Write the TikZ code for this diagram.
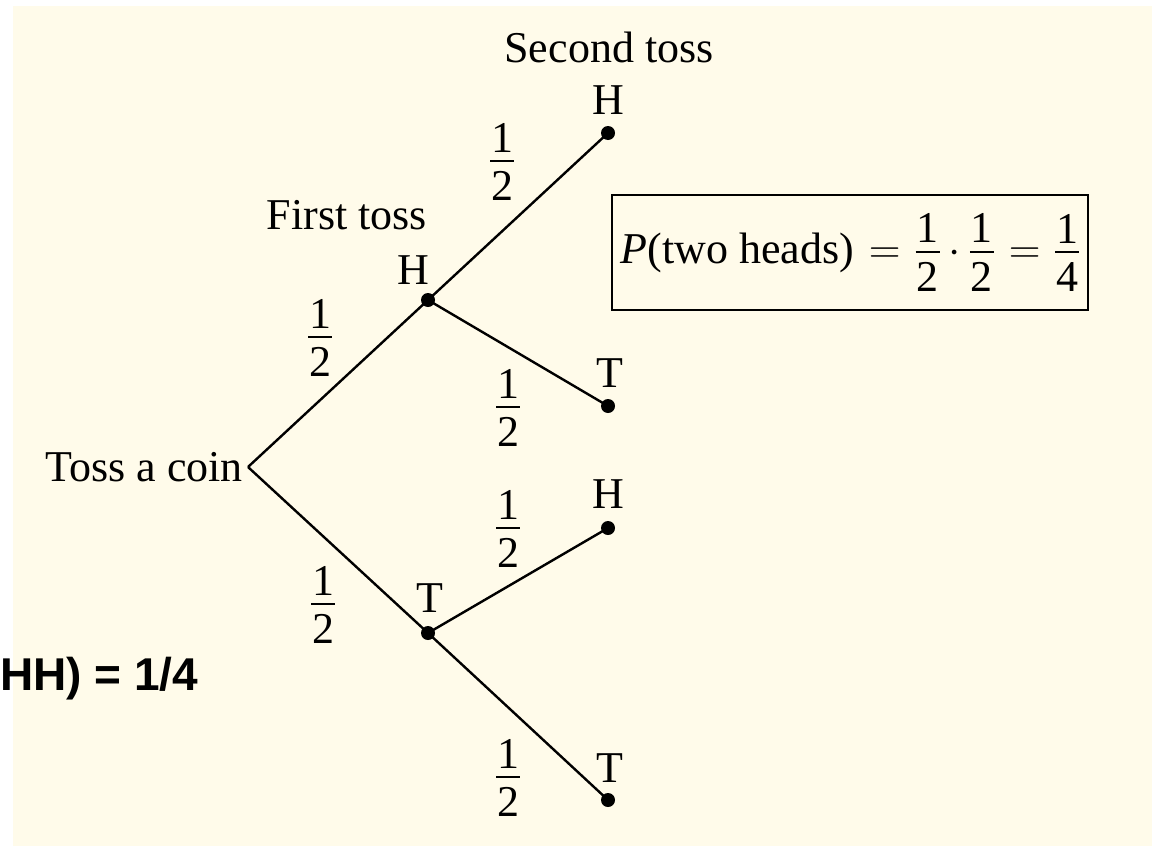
\RequirePackage{fix-cm}
\documentclass[tikz,border=0pt]{standalone}
\usepackage{fontspec}
\setmainfont{Liberation Serif}
\newfontfamily\labelsans{Liberation Sans}
\definecolor{cream}{RGB}{255,251,234}
\newcommand{\fr}[2]{\ensuremath{\vcenter{\offinterlineskip\halign{\hfil##\hfil\cr #1\cr\noalign{\kern 8pt}\rule{24pt}{2pt}\cr\noalign{\kern 9pt}#2\cr}}}}
\newcommand{\half}{\fr{1}{2}}
\tikzset{
  lbl/.style={inner sep=0pt, font=\fontsize{44}{52}\selectfont},
  dot/.style={circle, fill=black, inner sep=0pt, minimum size=14pt},
  branch/.style={line width=2.4pt},
}
\begin{document}
\begin{tikzpicture}[x=1pt,y=-1pt]
\useasboundingbox (0,0) rectangle (1152,846);
\fill[white] (0,0) rectangle (1152,846);
\fill[cream] (13,6) rectangle (1152,846);

% root
\node[lbl, anchor=east, inner xsep=5pt] (root) at (248,467) {Toss a coin};

% dots
\node[dot] (h1) at (428,300) {};
\node[dot] (t1) at (428,633) {};
\node[dot] (hh) at (608,133) {};
\node[dot] (ht) at (608,406) {};
\node[dot] (th) at (608,528) {};
\node[dot] (tt) at (608,800) {};

% branches
\draw[branch] (root.east) -- (h1.center) -- (hh.center);
\draw[branch] (h1.center) -- (ht.center);
\draw[branch] (root.east) -- (t1.center) -- (tt.center);
\draw[branch] (t1.center) -- (th.center);

% headings
\node[lbl] (second) at (609,47) {Second toss};
\node[lbl] (first) at (347,215) {First toss};

% outcome letters
\node[lbl] (lh1) at (413,270) {H};
\node[lbl] (lt1) at (430,598) {T};
\node[lbl] (lhh) at (608,100) {H};
\node[lbl] (lht) at (610,373) {T};
\node[lbl] (lth) at (608,494) {H};
\node[lbl] (ltt) at (610,768) {T};

% probabilities
\node[lbl] (p1) at (320,338) {\half};
\node[lbl] (p2) at (323,605) {\half};
\node[lbl] (p3) at (502,162) {\half};
\node[lbl] (p4) at (508,408) {\half};
\node[lbl] (p5) at (508,529) {\half};
\node[lbl] (p6) at (508,778) {\half};

% result box
\node[lbl, draw, line width=1.8pt, minimum width=476pt, minimum height=115pt] (box) at (850,252.5)
  {\textit{P}(two heads)\kern15pt$=$\kern15pt\fr{1}{2}\kern9pt$\cdot$\kern9pt\fr{1}{2}\kern15pt$=$\kern15pt\fr{1}{4}};

% overlay text
\node[anchor=base west, inner sep=0pt, font=\labelsans\bfseries\fontsize{46}{54}\selectfont] (hhnote) at (0,690) {HH) = 1/4};
\end{tikzpicture}
\end{document}
